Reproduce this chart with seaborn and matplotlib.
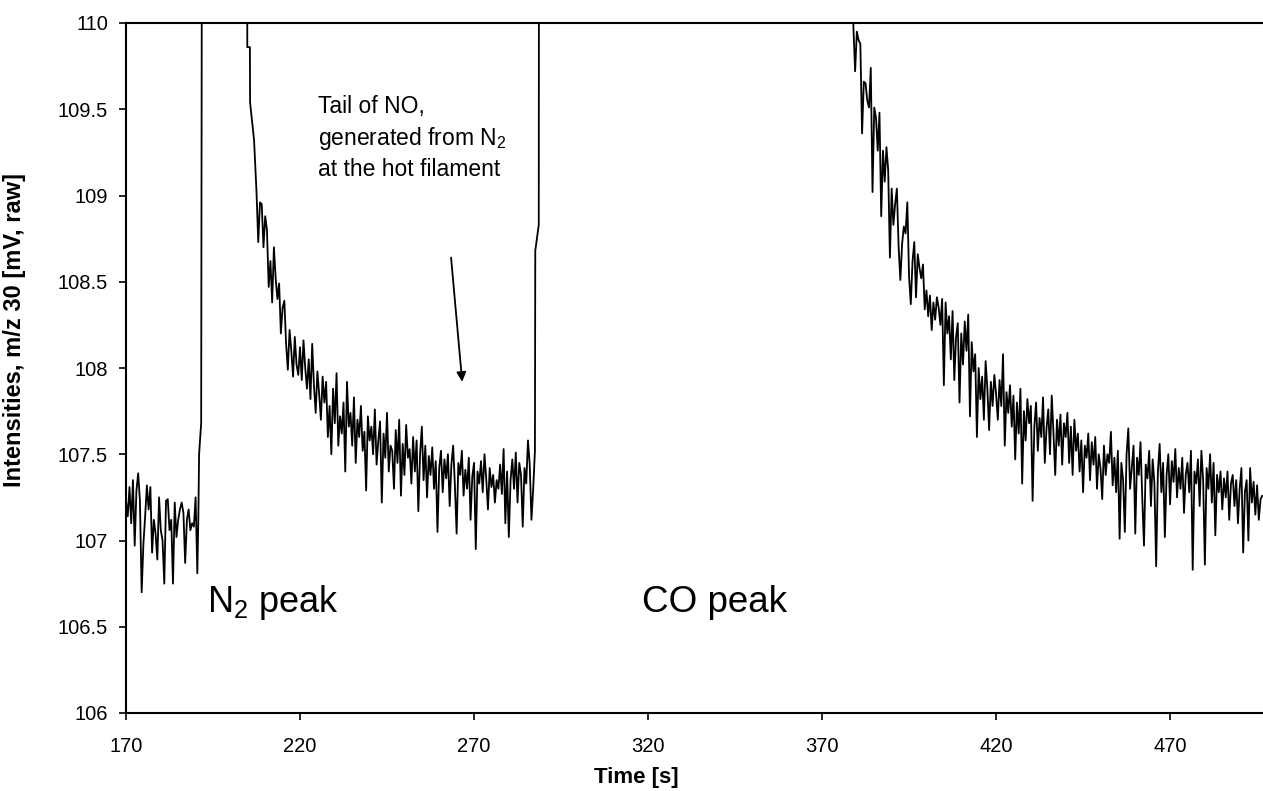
import numpy as np
import pandas as pd
import seaborn as sns
from matplotlib import pyplot as plt

# baseline before the N2 peak, one reading every 0.5 s from 170 s
base_v = [107.23, 107.14, 107.31, 107.10, 107.35, 106.97, 107.29, 107.39, 107.23, 106.70,
          106.98, 107.14, 107.32, 107.18, 107.31, 106.93, 107.12, 107.04, 106.89, 107.25,
          107.06, 107.00, 106.75, 107.23, 107.24, 107.06, 107.12, 106.75, 107.22, 107.02,
          107.12, 107.18, 107.22, 107.16, 106.87, 107.12, 107.18, 107.06, 107.10, 107.08,
          107.25, 106.81]

# N2 peak (goes off scale, 112 = above the plot)
n2_peak_t = [190.8, 191.0, 191.6, 191.9, 204.8, 204.85, 205.6, 205.65, 206.8]
n2_peak_v = [107.15, 107.50, 107.68, 112.0, 112.0, 109.86, 109.86, 109.54, 109.32]

# NO tail after the N2 peak, every 0.5 s from 207.5 s
n2_tail_v = [109.02, 108.73, 108.96, 108.95, 108.70, 108.88, 108.80, 108.47, 108.62, 108.38,
             108.70, 108.52, 108.40, 108.49, 108.20, 108.35, 108.39, 108.14, 107.99, 108.22,
             108.10, 107.95, 108.18, 108.02, 107.96, 108.12, 107.93, 108.16, 108.00, 107.88,
             108.05, 107.82, 108.14, 107.90, 107.74, 107.98, 107.85, 107.70, 107.95, 107.80,
             107.92, 107.60, 107.78, 107.50, 107.88, 107.68, 107.97, 107.55, 107.72, 107.62,
             107.80, 107.40, 107.92, 107.66, 107.74, 107.55, 107.83, 107.45, 107.70, 107.60,
             107.78, 107.52, 107.63, 107.29, 107.72, 107.58, 107.66, 107.50, 107.76, 107.44,
             107.58, 107.69, 107.22, 107.62, 107.48, 107.74, 107.40, 107.55, 107.52, 107.30,
             107.64, 107.45, 107.70, 107.26, 107.56, 107.38, 107.67, 107.48, 107.53, 107.33,
             107.60, 107.40, 107.58, 107.17, 107.50, 107.66, 107.35, 107.55, 107.25, 107.49,
             107.38, 107.54, 107.30, 107.46, 107.05, 107.42, 107.52, 107.28, 107.47, 107.36,
             107.50, 107.20, 107.44, 107.55, 107.32, 107.04, 107.45, 107.38, 107.52, 107.26,
             107.41, 107.30, 107.48, 107.12, 107.37, 107.45, 106.95, 107.40, 107.33, 107.46,
             107.28, 107.50, 107.36, 107.18, 107.42, 107.31, 107.38, 107.22, 107.35, 107.30,
             107.44, 107.27, 107.53, 107.10, 107.40, 107.02, 107.35, 107.47, 107.30, 107.51,
             107.22, 107.45, 107.38, 107.08, 107.42, 107.33, 107.58, 107.44, 107.12, 107.30]

# CO peak (off scale)
co_peak_t = [287.5, 287.6, 288.6, 288.7, 378.9]
co_peak_v = [107.52, 108.68, 108.83, 112.0, 112.0]

# tail after the CO peak, every 0.5 s from 379 s
co_tail_v = [109.98, 109.72, 109.95, 109.90, 109.88, 109.36, 109.66, 109.65, 109.55, 109.51,
             109.74, 109.02, 109.51, 109.45, 109.26, 109.48, 108.88, 109.26, 109.08, 109.28,
             109.15, 108.64, 109.04, 108.83, 108.95, 109.04, 108.70, 108.51, 108.72, 108.82,
             108.78, 108.96, 108.53, 108.37, 108.62, 108.73, 108.41, 108.66, 108.58, 108.52,
             108.60, 108.34,
             108.45, 108.30, 108.42, 108.22, 108.38, 108.28, 108.41, 108.35, 108.25, 108.40,
             107.90, 108.38, 108.20, 108.30, 108.05, 108.33, 107.93, 108.18, 108.26, 107.80,
             108.20, 108.02, 108.27, 108.10, 108.31, 107.72, 108.15, 107.98, 108.08, 107.60,
             108.00, 107.82, 107.95, 107.70, 108.04, 107.88, 107.64, 107.92, 107.78, 107.96,
             107.85, 107.70, 107.93, 107.78, 108.08, 107.55, 107.86, 107.74, 107.90, 107.66,
             107.84, 107.47, 107.80, 107.62, 107.88, 107.33, 107.75, 107.58, 107.82, 107.68,
             107.78, 107.23, 107.66, 107.80, 107.52, 107.71, 107.60, 107.83, 107.45, 107.65,
             107.76, 107.50, 107.84, 107.62, 107.38, 107.70, 107.55, 107.73, 107.44, 107.68,
             107.60, 107.74, 107.45, 107.66, 107.38, 107.70, 107.52, 107.62, 107.40, 107.58,
             107.28, 107.55, 107.48, 107.62, 107.35, 107.57, 107.44, 107.60, 107.30, 107.50,
             107.42, 107.24, 107.55, 107.38, 107.50, 107.45, 107.63, 107.32, 107.48, 107.28,
             107.52, 107.01, 107.45, 107.35, 107.05, 107.50, 107.65, 107.30, 107.42, 107.55,
             107.04, 107.48, 107.38, 107.57, 107.25, 106.97, 107.44, 107.36, 107.52, 107.20,
             107.47, 107.33, 106.85, 107.40, 107.56, 107.28, 107.45, 107.02, 107.38, 107.50,
             107.21, 107.46, 107.34, 107.53, 107.25, 107.42, 107.30, 107.48, 107.16, 107.38,
             107.45, 107.28, 107.52, 106.83, 107.40, 107.33, 107.47, 107.20, 107.52, 107.35,
             106.86, 107.42, 107.30, 107.50, 107.22, 107.45, 107.03, 107.38, 107.28, 107.40,
             107.18, 107.36, 107.25, 107.40, 107.12, 107.33, 107.38, 107.20, 107.35, 107.10,
             107.30, 107.42, 106.93, 107.28, 107.35, 107.00, 107.42, 107.22, 107.34, 107.15,
             107.32, 107.12, 107.24, 107.26]

x_ticks = [170, 220, 270, 320, 370, 420, 470]
y_ticks = [106, 106.5, 107, 107.5, 108, 108.5, 109, 109.5, 110]
y_ticklabels = ['106', '106.5', '107', '107.5', '108', '108.5', '109', '109.5', '110']

# glue the segments into one trace
t = np.concatenate([170 + 0.5 * np.arange(len(base_v)), n2_peak_t,
                    207.5 + 0.5 * np.arange(len(n2_tail_v)), co_peak_t,
                    379.0 + 0.5 * np.arange(len(co_tail_v))])
v = np.concatenate([base_v, n2_peak_v, n2_tail_v, co_peak_v, co_tail_v])
df = pd.DataFrame({'Time [s]': t, 'Intensity': v})

sns.set_style('ticks')
plt.rcParams['font.family'] = ['Liberation Sans', 'DejaVu Sans']
plt.rcParams['mathtext.default'] = 'regular'
plt.rcParams['text.color'] = 'black'
plt.rcParams['axes.labelcolor'] = 'black'

fig = plt.figure(figsize=(12.63, 7.91), dpi=100)
ax = fig.add_axes([126 / 1263, 78 / 791, 1 - 126 / 1263, 690 / 791])

sns.lineplot(data=df, x='Time [s]', y='Intensity', sort=False, estimator=None,
             color='black', lw=1.3, ax=ax)

ax.set_xlim(170, 496.7)
ax.set_ylim(106, 110)
ax.set_xticks(x_ticks)
ax.set_yticks(y_ticks)
ax.set_yticklabels(y_ticklabels)
ax.tick_params(axis='both', direction='out', length=5, width=1.2, color='black',
               labelsize=14.5, labelcolor='black')
ax.tick_params(axis='y', pad=8)
ax.tick_params(axis='x', pad=12)

for s in ['left', 'bottom', 'top']:
    ax.spines[s].set_visible(True)
    ax.spines[s].set_color('black')
    ax.spines[s].set_linewidth(1.5)
ax.spines['right'].set_visible(False)

ax.set_xlabel('Time [s]', fontsize=16, fontweight='bold')
ax.set_ylabel('Intensities, m/z 30 [mV, raw]', fontsize=17, fontweight='bold')
ax.xaxis.set_label_coords(0.449, -0.078)
ax.yaxis.set_label_coords(-0.088, 0.555)

ax.text(225.2, 109.585, 'Tail of NO,\ngenerated from N$_2$\nat the hot filament',
        fontsize=16.5, va='top', ha='left', linespacing=1.35)
ax.annotate('', xy=(266.6, 107.92), xytext=(263.4, 108.64),
            arrowprops=dict(arrowstyle='-|>', color='black', lw=1.3,
                            mutation_scale=14, shrinkA=0, shrinkB=0))
ax.text(193.3, 106.585, 'N$_2$ peak', fontsize=26, va='baseline', ha='left')
ax.text(318.3, 106.585, 'CO peak', fontsize=26.5, va='baseline', ha='left')

plt.savefig('out.png', dpi=100)
